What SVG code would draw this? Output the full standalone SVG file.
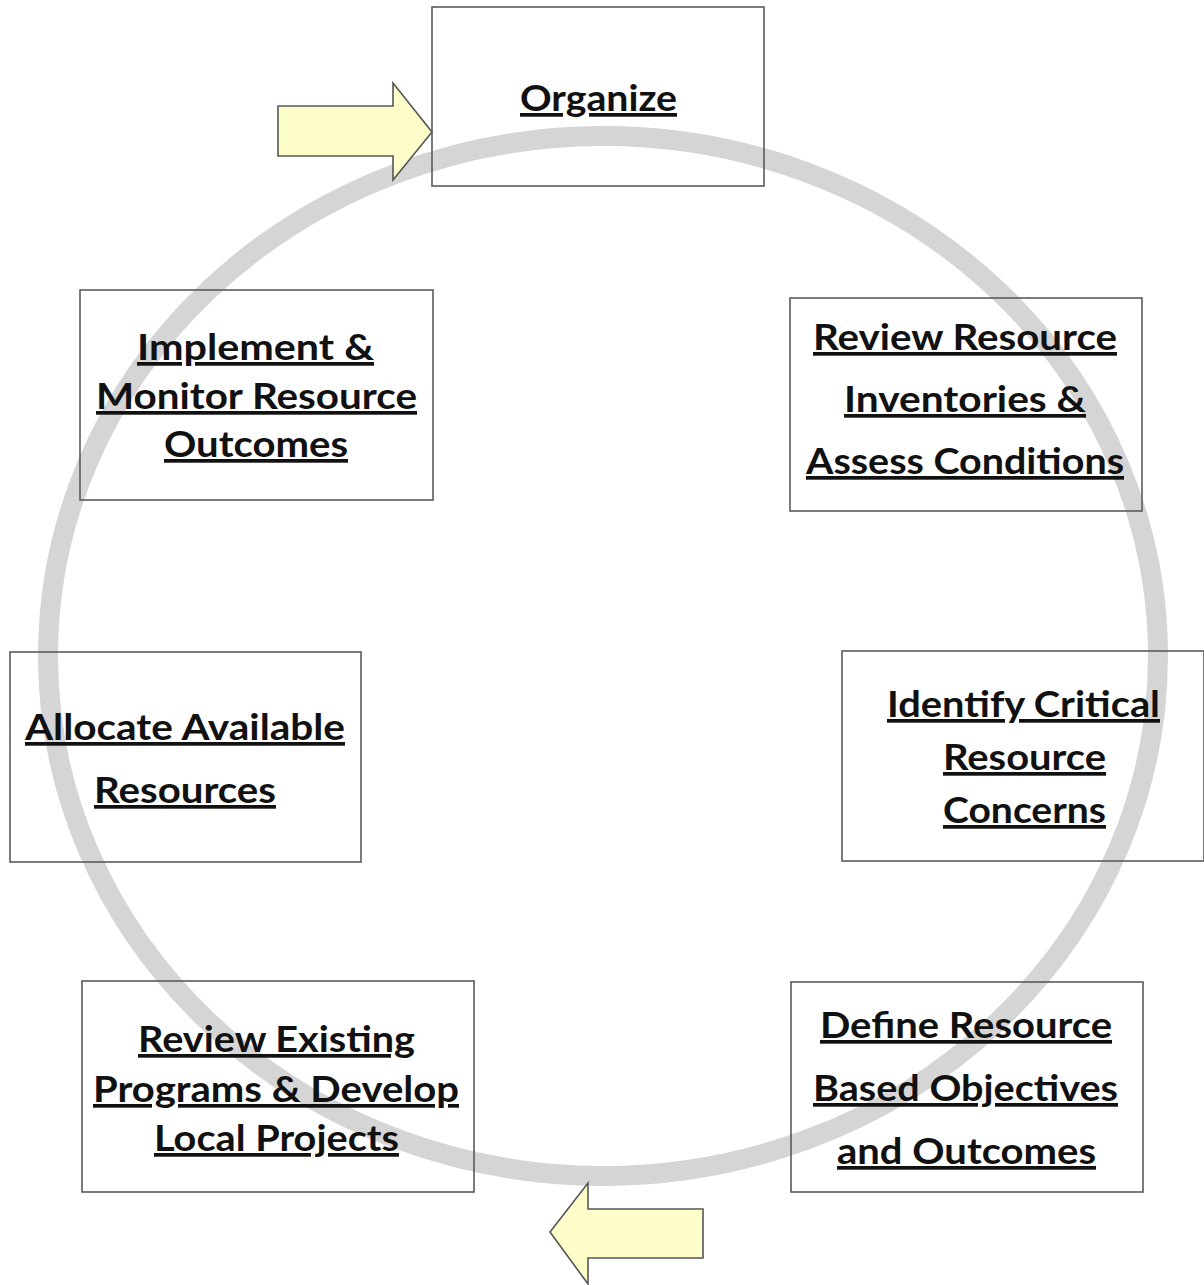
<svg xmlns="http://www.w3.org/2000/svg" width="1204" height="1285" viewBox="0 0 1204 1285">
<style>
.box{fill:none;stroke:#5a5a5a;stroke-width:1.6}
.t{font-family:Lato,"Open Sans","Liberation Sans",sans-serif;font-weight:bold;font-size:37px;fill:#111;text-anchor:start;text-decoration:underline}
.arr{fill:#fdfdc9;stroke:#555;stroke-width:1.6;stroke-linejoin:miter}
</style>
<rect width="1204" height="1285" fill="#fff"/>
<g id="cycle">
<ellipse cx="603" cy="656" rx="555" ry="520" fill="none" stroke="#d5d5d5" stroke-width="20"/>
</g>
<g id="connectors">
<polygon class="arr" points="278,106 393,106 393,83 432,132 393,180 393,156 278,156"/>
<polygon class="arr" points="703,1209 588,1209 588,1183 550,1232 588,1284 588,1258 703,1258"/>
</g>
<g id="organize">
<rect class="box" x="432" y="7" width="332" height="179"/>
<text class="t" x="520" y="111" textLength="157" lengthAdjust="spacingAndGlyphs">Organize</text>
</g>
<g id="review-resource">
<rect class="box" x="790" y="298" width="352" height="213"/>
<text class="t" x="813" y="350" textLength="304" lengthAdjust="spacingAndGlyphs">Review Resource</text>
<text class="t" x="844" y="412" textLength="242" lengthAdjust="spacingAndGlyphs">Inventories &amp;</text>
<text class="t" x="806" y="474" textLength="318" lengthAdjust="spacingAndGlyphs">Assess Conditions</text>
</g>
<g id="identify">
<rect class="box" x="842" y="651" width="362" height="210"/>
<text class="t" x="887" y="717" textLength="273" lengthAdjust="spacingAndGlyphs">Identify Critical</text>
<text class="t" x="943" y="770" textLength="163" lengthAdjust="spacingAndGlyphs">Resource</text>
<text class="t" x="943" y="823" textLength="163" lengthAdjust="spacingAndGlyphs">Concerns</text>
</g>
<g id="define">
<rect class="box" x="791" y="982" width="352" height="210"/>
<text class="t" x="820" y="1038" textLength="292" lengthAdjust="spacingAndGlyphs">Define Resource</text>
<text class="t" x="813" y="1101" textLength="305" lengthAdjust="spacingAndGlyphs">Based Objectives</text>
<text class="t" x="837" y="1164" textLength="259" lengthAdjust="spacingAndGlyphs">and Outcomes</text>
</g>
<g id="review-existing">
<rect class="box" x="82" y="981" width="392" height="211"/>
<text class="t" x="138" y="1052" textLength="277" lengthAdjust="spacingAndGlyphs">Review Existing</text>
<text class="t" x="93" y="1102" textLength="366" lengthAdjust="spacingAndGlyphs">Programs &amp; Develop</text>
<text class="t" x="154" y="1151" textLength="245" lengthAdjust="spacingAndGlyphs">Local Projects</text>
</g>
<g id="allocate">
<rect class="box" x="10" y="652" width="351" height="210"/>
<text class="t" x="25" y="740" textLength="320" lengthAdjust="spacingAndGlyphs">Allocate Available</text>
<text class="t" x="94" y="803" textLength="182" lengthAdjust="spacingAndGlyphs">Resources</text>
</g>
<g id="implement">
<rect class="box" x="80" y="290" width="353" height="210"/>
<text class="t" x="137" y="360" textLength="237" lengthAdjust="spacingAndGlyphs">Implement &amp;</text>
<text class="t" x="96" y="409" textLength="321" lengthAdjust="spacingAndGlyphs">Monitor Resource</text>
<text class="t" x="164" y="457" textLength="184" lengthAdjust="spacingAndGlyphs">Outcomes</text>
</g>
</svg>
